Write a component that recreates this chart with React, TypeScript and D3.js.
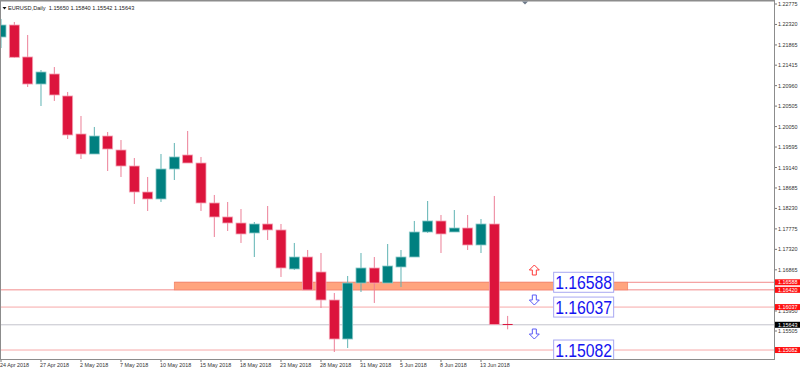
import React from "react";
import * as d3 from "d3";

const dates = [
  "24 Apr 2018", "25 Apr 2018", "26 Apr 2018", "27 Apr 2018", "30 Apr 2018", "1 May 2018", "2 May 2018",
  "3 May 2018", "4 May 2018", "7 May 2018", "8 May 2018", "9 May 2018", "10 May 2018", "11 May 2018",
  "14 May 2018", "15 May 2018", "16 May 2018", "17 May 2018", "18 May 2018", "21 May 2018", "22 May 2018",
  "23 May 2018", "24 May 2018", "25 May 2018", "28 May 2018", "29 May 2018", "30 May 2018", "31 May 2018",
  "1 Jun 2018", "4 Jun 2018", "5 Jun 2018", "6 Jun 2018", "7 Jun 2018", "8 Jun 2018", "11 Jun 2018",
  "12 Jun 2018", "13 Jun 2018", "14 Jun 2018", "15 Jun 2018",
];
const opens = [1.22041, 1.22308, 1.21597, 1.20996, 1.21219, 1.2073, 1.19885, 1.1944, 1.1984, 1.19529, 1.19173, 1.18595, 1.1844, 1.19107, 1.19418, 1.1924, 1.18351, 1.1804, 1.17906, 1.17684, 1.17884, 1.17751, 1.16884, 1.1715, 1.16817, 1.16194, 1.15327, 1.16572, 1.16906, 1.16572, 1.16928, 1.1715, 1.17706, 1.17951, 1.17706, 1.17795, 1.17417, 1.17884, 1.1565];
const highs = [1.22442, 1.22375, 1.22086, 1.21308, 1.21374, 1.20819, 1.20285, 1.20041, 1.19929, 1.19751, 1.19351, 1.18929, 1.1944, 1.19685, 1.19952, 1.19374, 1.18529, 1.18373, 1.18217, 1.17928, 1.18284, 1.17884, 1.17462, 1.17306, 1.17239, 1.1635, 1.16728, 1.17239, 1.1715, 1.17439, 1.17306, 1.17951, 1.18395, 1.18084, 1.18195, 1.18084, 1.17995, 1.18507, 1.1584];
const lows = [1.21797, 1.21575, 1.2093, 1.20507, 1.20619, 1.19774, 1.19329, 1.1944, 1.19062, 1.18929, 1.18329, 1.18173, 1.18373, 1.18862, 1.1924, 1.18173, 1.17595, 1.17728, 1.17462, 1.1715, 1.17528, 1.16706, 1.16861, 1.16417, 1.16017, 1.15038, 1.15127, 1.16372, 1.16128, 1.16572, 1.16483, 1.1715, 1.17684, 1.17239, 1.17706, 1.17306, 1.17239, 1.1565, 1.15542];
const closes = [1.22308, 1.2159, 1.20996, 1.21263, 1.20752, 1.19863, 1.1944, 1.1984, 1.19551, 1.19173, 1.18595, 1.1844, 1.19107, 1.19374, 1.1924, 1.18351, 1.1804, 1.17906, 1.17662, 1.17884, 1.17751, 1.16906, 1.1715, 1.16417, 1.16194, 1.15327, 1.16572, 1.16906, 1.16572, 1.1695, 1.1715, 1.17706, 1.17951, 1.17662, 1.17795, 1.17417, 1.17884, 1.1565, 1.15643];

const yTickValues = [1.22775, 1.2232, 1.21865, 1.21415, 1.2096, 1.20505, 1.2005, 1.19595, 1.1914, 1.18685, 1.1823, 1.17775, 1.1732, 1.16865, 1.1641, 1.1595, 1.15505, 1.1505];
const xLabelEvery = 3;

const title = "EURUSD,Daily  1.15650 1.15840 1.15542 1.15643";
const currentPrice = 1.15643;
const zoneTop = 1.16588;
const zoneBottom = 1.1642;
const zoneStartIdx = 13;
const zoneEndIdx = 47;
const levelLines = [1.16037, 1.15082];
const levelBoxes = [1.16588, 1.16037, 1.15082];
const axisRedLabels = [1.16588, 1.1642, 1.16037, 1.15082];
const arrowIdx = 40;
const upArrows = [1.16861];
const downArrows = [1.16194, 1.15438];

const W = 800;
const H = 371;
const plotRight = 774;
const plotBottom = 359;
const FONT = "'Liberation Sans', Arial, sans-serif";

const RED = "#DC143C";
const TEAL = "#008080";

export default function App() {
  const y = d3.scaleLinear().domain([1.15505, 1.22775]).range([331, 4]);
  const x = d3.scaleLinear().domain([0, 38]).range([1, 1 + 38 * 13.333]);
  const bw = 10;
  const fmt = d3.format(".5f");

  const arrowUp = (cx: number, cy: number) =>
    `M${cx},${cy - 5} L${cx - 5},${cy} L${cx - 2},${cy} L${cx - 2},${cy + 5} L${cx + 2},${cy + 5} L${cx + 2},${cy} L${cx + 5},${cy} Z`;
  const arrowDown = (cx: number, cy: number) =>
    `M${cx},${cy + 5} L${cx - 5},${cy} L${cx - 2},${cy} L${cx - 2},${cy - 5} L${cx + 2},${cy - 5} L${cx + 2},${cy} L${cx + 5},${cy} Z`;

  return (
    <svg
      width={W}
      height={H}
      style={{ position: "fixed", left: 0, top: 0, background: "#fff" }}
      fontFamily={FONT}
    >
      <defs>
        <clipPath id="plot">
          <rect x={0} y={1} width={plotRight} height={plotBottom - 1} />
        </clipPath>
      </defs>
      <rect x={0} y={0} width={W} height={H} fill="#fff" />

      <g clipPath="url(#plot)">
        {/* full-width level lines */}
        <line x1={0} x2={plotRight} y1={y(zoneBottom)} y2={y(zoneBottom)} stroke="#F28C8C" strokeWidth={1} />
        <line x1={x(zoneStartIdx)} x2={plotRight} y1={y(zoneTop)} y2={y(zoneTop)} stroke="#F28C8C" strokeWidth={1} />
        {levelLines.map((p) => (
          <line key={p} x1={0} x2={plotRight} y1={y(p)} y2={y(p)} stroke="#F7A8A8" strokeWidth={1} />
        ))}
        <line x1={0} x2={plotRight} y1={y(currentPrice)} y2={y(currentPrice)} stroke="#C4C4CC" strokeWidth={1} />

        {/* zone band */}
        <rect
          x={x(zoneStartIdx)}
          y={y(zoneTop)}
          width={x(zoneEndIdx) - x(zoneStartIdx)}
          height={y(zoneBottom) - y(zoneTop)}
          fill="#FFA47E"
          stroke="#F4876A"
          strokeWidth={0.8}
        />

        {/* candles */}
        {opens.map((o, i) => {
          const c = closes[i];
          const up = c > o;
          const col = up ? TEAL : RED;
          const wickCol = up ? "#5FB3B3" : "#EC7F97";
          const edge = up ? "#8CCACA" : "#F4A3B5";
          const cx = x(i);
          const top = y(Math.max(o, c));
          const bot = y(Math.min(o, c));
          const h = Math.max(1, bot - top);
          return (
            <g key={dates[i]}>
              <line x1={cx} x2={cx} y1={y(highs[i])} y2={y(lows[i])} stroke={wickCol} strokeWidth={1} />
              {h > 1.5 ? (
                <rect x={cx - bw / 2} y={top} width={bw} height={h} fill={col} stroke={edge} strokeWidth={0.8} />
              ) : (
                <line x1={cx - bw / 2} x2={cx + bw / 2} y1={top} y2={top} stroke={col} strokeWidth={1} />
              )}
            </g>
          );
        })}

        {/* arrows */}
        {upArrows.map((p) => (
          <path key={"u" + p} d={arrowUp(x(arrowIdx), y(p))} fill="#fff" stroke="#FF3A3A" strokeWidth={1} />
        ))}
        {downArrows.map((p) => (
          <path key={"d" + p} d={arrowDown(x(arrowIdx), y(p))} fill="#fff" stroke="#5A5AF5" strokeWidth={1} />
        ))}

        {/* level boxes */}
        {levelBoxes.map((p) => {
          const bx = x(arrowIdx + 1) + 6;
          return (
            <g key={"b" + p}>
              <rect x={bx} y={y(p) - 10} width={60} height={20} fill="#fff" stroke="#A8A8F2" strokeWidth={1} />
              <text x={bx + 30} y={y(p) + 6.5} textAnchor="middle" fontSize={17.5} fill="#1414F0" textLength={57} lengthAdjust="spacingAndGlyphs">
                {fmt(p)}
              </text>
            </g>
          );
        })}
      </g>

      {/* frame */}
      <line x1={0} x2={plotRight} y1={0.75} y2={0.75} stroke="#8C8C8C" strokeWidth={1.5} />
      <line x1={0.5} x2={0.5} y1={0} y2={plotBottom} stroke="#8C8C8C" strokeWidth={1} />
      <line x1={0} x2={plotRight} y1={plotBottom + 0.5} y2={plotBottom + 0.5} stroke="#8C8C8C" strokeWidth={1} />
      <line x1={plotRight + 0.5} x2={plotRight + 0.5} y1={0} y2={plotBottom + 1} stroke="#8C8C8C" strokeWidth={1} />

      {/* shift marker */}
      <path d="M522,1.5 L528,1.5 L525,4.5 Z" fill="#6E7A8A" />

      {/* title */}
      <path d="M2.5,7 L6.5,7 L4.5,9.5 Z" fill="#111" />
      <text x={8} y={10} fontSize={5.6} fill="#222" style={{ whiteSpace: "pre" }}>
        {title}
      </text>

      {/* right axis */}
      {yTickValues.map((v) => (
        <g key={"t" + v}>
          <line x1={plotRight + 1} x2={plotRight + 3} y1={y(v)} y2={y(v)} stroke="#555" strokeWidth={0.8} />
          <text x={plotRight + 4} y={y(v) + 2} fontSize={5.4} fill="#333">
            {fmt(v)}
          </text>
        </g>
      ))}
      {axisRedLabels.map((p) => (
        <g key={"r" + p}>
          <rect x={plotRight + 1} y={y(p) - 3} width={W - plotRight - 1} height={6} fill="#FF1010" />
          <text x={plotRight + 4} y={y(p) + 2} fontSize={5.4} fill="#fff">
            {fmt(p)}
          </text>
        </g>
      ))}
      <rect x={plotRight + 1} y={y(currentPrice) - 3} width={W - plotRight - 1} height={6} fill="#000" />
      <text x={plotRight + 4} y={y(currentPrice) + 2} fontSize={5.4} fill="#fff">
        {fmt(currentPrice)}
      </text>

      {/* bottom axis */}
      {dates.map((d, i) =>
        i % xLabelEvery === 0 ? (
          <g key={"x" + d}>
            <line x1={x(i)} x2={x(i)} y1={plotBottom + 1} y2={plotBottom + 3} stroke="#555" strokeWidth={0.8} />
            <text x={x(i) - 1} y={plotBottom + 8} fontSize={5.4} fill="#333">
              {d}
            </text>
          </g>
        ) : null
      )}
    </svg>
  );
}
